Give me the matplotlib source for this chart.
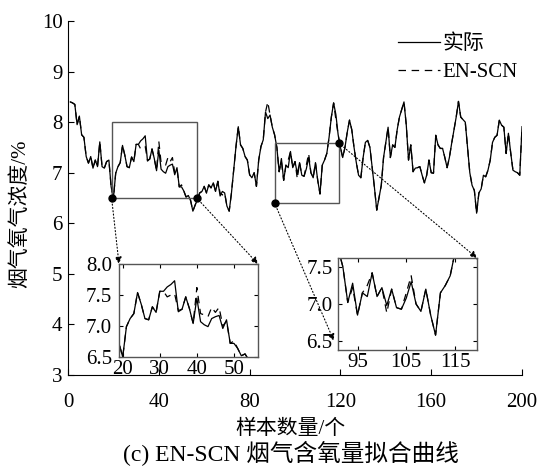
import numpy as np
import matplotlib
matplotlib.use('Agg')
import matplotlib.pyplot as plt
from matplotlib.patches import Rectangle, ConnectionPatch

plt.rcParams['font.family'] = ['Liberation Serif', 'Noto Sans CJK SC']
plt.rcParams['font.size'] = 15
plt.rcParams['axes.unicode_minus'] = False

# --- data ---
samples = np.arange(1, 201)

actual = [
    8.40, 8.38, 8.35, 7.95, 8.12, 7.75, 7.70, 7.32, 7.19, 7.32,
    7.09, 7.25, 7.12, 7.61, 7.12, 7.09, 7.22, 7.25, 6.72, 6.50,
    6.99, 7.12, 7.20, 7.54, 7.35, 7.12, 7.10, 7.31, 7.22, 7.56,
    7.56, 7.63, 7.67, 7.73, 7.23, 7.27, 7.47, 7.28, 7.04, 7.45,
    7.07, 7.02, 6.99, 7.12, 7.15, 7.17, 6.96, 7.10, 6.72, 6.72,
    6.64, 6.52, 6.55, 6.45, 6.24, 6.36, 6.47, 6.60, 6.63, 6.73,
    6.60, 6.76, 6.70, 6.80, 6.63, 6.83, 6.54, 6.63, 6.60, 6.34,
    6.24, 6.60, 7.06, 7.52, 7.91, 7.55, 7.48, 7.32, 7.25, 6.96,
    6.90, 7.00, 6.73, 7.25, 7.52, 7.65, 8.20, 8.07, 8.14, 7.90,
    7.75, 7.50, 7.02, 7.28, 6.85, 7.15, 7.10, 7.42, 7.10, 7.22,
    6.98, 7.20, 6.95, 6.93, 7.08, 7.30, 7.00, 6.90, 7.20, 6.85,
    6.58, 7.15, 7.25, 7.38, 7.70, 8.10, 8.38, 8.15, 7.75, 7.50,
    7.30, 7.50, 7.80, 8.04, 7.85, 7.50, 7.20, 6.95, 6.90, 7.30,
    7.60, 7.64, 7.50, 7.10, 6.70, 6.26, 6.50, 6.75, 7.30, 7.60,
    7.90, 7.30, 7.55, 7.50, 7.85, 8.10, 8.25, 8.40, 7.95, 7.25,
    7.55, 7.02, 7.09, 7.10, 7.12, 6.95, 6.80, 6.95, 7.25, 7.00,
    6.99, 7.74, 7.55, 7.48, 7.48, 7.30, 7.10, 7.30, 7.58, 7.84,
    8.10, 8.41, 8.10, 8.05, 8.00, 7.50, 7.00, 6.75, 6.65, 6.20,
    6.60, 6.68, 6.95, 6.92, 7.05, 7.25, 7.60, 7.70, 7.74, 8.04,
    7.94, 7.90, 7.38, 7.78, 7.40, 7.05, 7.02, 7.00, 6.95, 7.91,
]

en_scn = [
    8.40, 8.38, 8.35, 7.95, 8.12, 7.75, 7.70, 7.32, 7.19, 7.32,
    7.09, 7.25, 7.12, 7.61, 7.12, 7.09, 7.22, 7.25, 6.72, 6.50,
    6.99, 7.12, 7.20, 7.54, 7.35, 7.12, 7.10, 7.31, 7.22, 7.56,
    7.56, 7.47, 7.50, 7.52, 7.25, 7.27, 7.47, 7.28, 7.04, 7.62,
    7.20, 7.18, 7.15, 7.30, 7.22, 7.30, 7.00, 7.08, 6.72, 6.76,
    6.64, 6.52, 6.55, 6.45, 6.24, 6.36, 6.47, 6.60, 6.63, 6.73,
    6.60, 6.76, 6.70, 6.80, 6.63, 6.83, 6.60, 6.56, 6.60, 6.34,
    6.24, 6.60, 7.06, 7.52, 7.91, 7.55, 7.48, 7.32, 7.25, 6.96,
    6.90, 7.00, 6.73, 7.25, 7.52, 7.65, 8.20, 8.40, 8.14, 7.90,
    7.75, 7.50, 7.02, 7.22, 6.85, 7.15, 7.25, 7.42, 7.10, 7.22,
    6.88, 7.20, 6.95, 6.93, 7.15, 7.38, 7.00, 6.90, 7.20, 6.85,
    6.58, 7.15, 7.25, 7.38, 7.70, 8.10, 8.38, 8.05, 7.75, 7.50,
    7.30, 7.50, 7.80, 8.04, 7.85, 7.50, 7.20, 6.95, 6.90, 7.30,
    7.60, 7.64, 7.50, 7.10, 6.70, 6.26, 6.50, 6.75, 7.30, 7.60,
    7.90, 7.30, 7.55, 7.50, 7.85, 8.10, 8.25, 8.40, 7.95, 7.25,
    7.55, 7.02, 7.09, 7.10, 7.12, 6.95, 6.80, 6.95, 7.25, 7.00,
    6.99, 7.74, 7.55, 7.48, 7.48, 7.30, 7.10, 7.30, 7.58, 7.84,
    8.10, 8.41, 8.10, 8.05, 8.00, 7.50, 7.00, 6.75, 6.65, 6.20,
    6.60, 6.68, 6.95, 6.92, 7.05, 7.25, 7.60, 7.70, 7.74, 8.04,
    7.94, 7.90, 7.38, 7.78, 7.40, 7.05, 7.02, 7.00, 6.95, 7.91,
]

# zoom windows (x0, x1, y0, y1)
zoom1 = (19.2, 56.7, 6.5, 8.0)
zoom2 = (91.0, 119.4, 6.4, 7.58)

DASH = (0, (6, 4.5))

fig = plt.figure(figsize=(5.39, 4.75), dpi=100)
ax = fig.add_axes([0.1262, 0.2105, 0.8423, 0.7453])

ax.plot(samples, actual, color='black', lw=0.9, label='实际')
ax.plot(samples, en_scn, color='black', lw=0.9, linestyle=DASH, label='EN-SCN')

ax.set_xlim(0, 200)
ax.set_ylim(3, 10)
ax.set_xticks(range(0, 201, 40))
ax.set_yticks(range(3, 11))
ax.spines['top'].set_visible(False)
ax.spines['right'].set_visible(False)
ax.tick_params(direction='in', length=4, width=0.8)
ax.tick_params(axis='x', pad=13)
ax.tick_params(axis='y', pad=4)

leg = ax.legend(loc='upper right', bbox_to_anchor=(0.99, 0.962), frameon=False,
                handlelength=2.0, handletextpad=0.1, labelspacing=0.4,
                borderpad=0, borderaxespad=0)

fig.text(290 / 539, 1 - 429 / 475, '样本数量/个', ha='center', va='center')
fig.text(20 / 539, 1 - 214 / 475, '烟气氧气浓度/%', ha='center', va='center', rotation=90)
fig.text(291 / 539, 1 - 453 / 475, '(c) EN-SCN 烟气含氧量拟合曲线', ha='center', va='center',
         fontsize=17)

# zoom boxes on main axes
for (x0, x1, y0, y1) in (zoom1, zoom2):
    ax.add_patch(Rectangle((x0, y0), x1 - x0, y1 - y0, fill=False,
                           edgecolor='#555555', lw=1.0, zorder=3))

# insets
ins1 = fig.add_axes([0.2208, 0.2484, 0.2579, 0.1958])
ins2 = fig.add_axes([0.6271, 0.2632, 0.2579, 0.1937])

for ins in (ins1, ins2):
    ins.plot(samples, actual, color='black', lw=0.9)
    ins.plot(samples, en_scn, color='black', lw=0.9, linestyle=DASH)
    ins.tick_params(direction='in', length=3, width=0.8, top=True, right=True, pad=2)
    for sp in ins.spines.values():
        sp.set_color('#555555')
        sp.set_linewidth(1.0)

ins1.set_xlim(19, 56.5)
ins1.set_ylim(6.5, 8.0)
ins1.set_xticks([20, 30, 40, 50])
ins1.set_yticks([6.5, 7.0, 7.5, 8.0])
ins1.set_yticklabels(['6.5', '7.0', '7.5', '8.0'])
ins1.tick_params(axis='y', pad=5)

ins2.set_xlim(91, 119.5)
ins2.set_ylim(6.38, 7.62)
ins2.set_xticks([95, 105, 115])
ins2.set_yticks([6.5, 7.0, 7.5])
ins2.set_yticklabels(['6.5', '7.0', '7.5'])
ins2.tick_params(axis='y', pad=4)

# connector dots and dotted arrows
dots = [(zoom1[0], zoom1[2]), (zoom1[1], zoom1[2]), (zoom2[0], zoom2[2]), (zoom2[1], zoom2[3])]
targets = [(ins1, (0.0, 1.0)), (ins1, (1.0, 1.0)), (ins2, (-0.03, 0.1)), (ins2, (1.0, 1.0))]
for (px, py), (ins, xyb) in zip(dots, targets):
    ax.plot(px, py, 'o', color='black', ms=5, zorder=5, clip_on=False)
    con = ConnectionPatch(xyA=(px, py), coordsA=ax.transData,
                          xyB=xyb, coordsB=ins.transAxes,
                          arrowstyle='-|>', linestyle=(0, (1, 2)), lw=0.8,
                          color='black', mutation_scale=10, shrinkA=2, shrinkB=0)
    fig.add_artist(con)

fig.savefig('out.png', dpi=100)
